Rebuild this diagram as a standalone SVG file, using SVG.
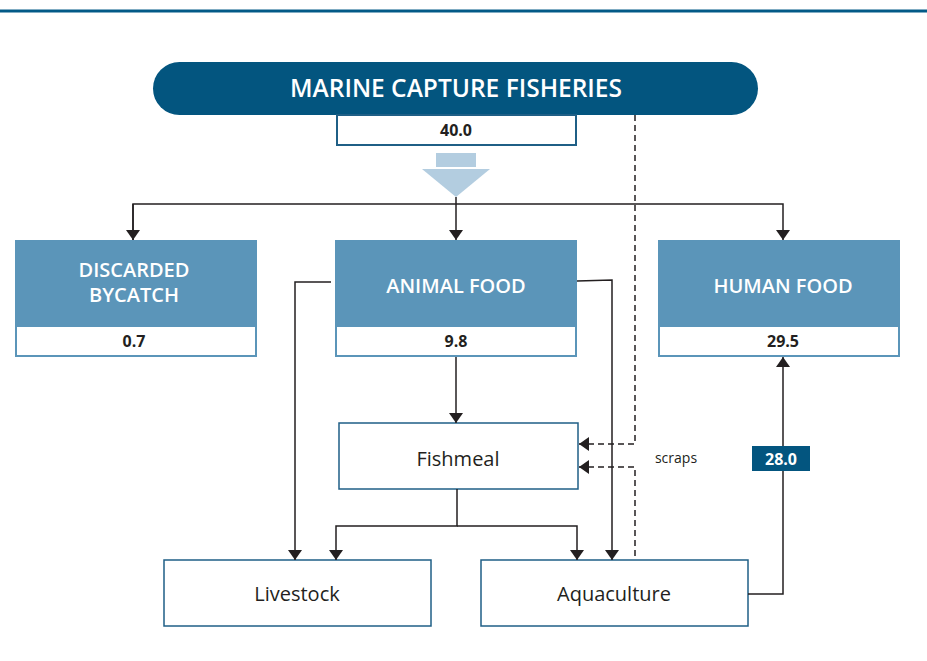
<svg xmlns="http://www.w3.org/2000/svg" width="927" height="661" viewBox="0 0 927 661">
<defs>
<style>
.t{font-family:"Open Sans","Liberation Sans",sans-serif}
.cap{font-size:20px;font-weight:600;fill:#fff;text-anchor:middle}
.num{font-size:16px;font-weight:700;fill:#231f20;text-anchor:middle}
.lbl{font-size:20px;fill:#231f20;text-anchor:middle}
.hd{fill:#5b95b9}
.vb{fill:#fff;stroke:#5b95b9;stroke-width:2}
.wb{fill:#fff;stroke:#1f5f86;stroke-width:1.5}
.ln{fill:none;stroke:#231f20;stroke-width:1.5}
.ds{fill:none;stroke:#231f20;stroke-width:1.5;stroke-dasharray:6 4}
</style>
<marker id="ah" viewBox="0 0 10 14" refX="10" refY="7" markerWidth="10" markerHeight="14" markerUnits="userSpaceOnUse" orient="auto">
<path d="M0,0L10,7L0,14z" fill="#231f20"/>
</marker>
</defs>
<rect x="0" y="9.5" width="927" height="3" fill="#035a87"/>

<g id="marine">
<rect x="153" y="62" width="605" height="53" rx="26.5" fill="#03557f"/>
<text class="t" x="456" y="97" font-size="24.5" font-weight="600" fill="#fff" text-anchor="middle">MARINE CAPTURE FISHERIES</text>
<rect x="337" y="115" width="239" height="30" fill="#fff" stroke="#1f5f86" stroke-width="2"/>
<text class="t num" x="456" y="136">40.0</text>
</g>

<g id="bigarrow" fill="#b3cde0">
<rect x="436" y="153" width="40" height="14"/>
<path d="M422,169H490L456,197z"/>
</g>

<g id="discarded">
<rect class="vb" x="16" y="241" width="240" height="115"/>
<rect class="hd" x="15" y="240" width="242" height="87"/>
<text class="t cap" x="134" y="277">DISCARDED</text>
<text class="t cap" x="134" y="302">BYCATCH</text>
<text class="t num" x="134" y="347">0.7</text>
</g>

<g id="animal">
<rect class="vb" x="336" y="241" width="240" height="115"/>
<rect class="hd" x="335" y="240" width="242" height="87"/>
<text class="t cap" x="456" y="293">ANIMAL FOOD</text>
<text class="t num" x="456" y="347">9.8</text>
</g>

<g id="human">
<rect class="vb" x="659" y="241" width="240" height="115"/>
<rect class="hd" x="658" y="240" width="242" height="87"/>
<text class="t cap" x="783" y="293">HUMAN FOOD</text>
<text class="t num" x="783" y="347">29.5</text>
</g>

<g id="fishmeal">
<rect class="wb" x="339" y="423" width="239" height="66"/>
<text class="t lbl" x="458" y="466">Fishmeal</text>
</g>

<g id="livestock">
<rect class="wb" x="164" y="560" width="267" height="66"/>
<text class="t lbl" x="297" y="601">Livestock</text>
</g>

<g id="aquaculture">
<rect class="wb" x="481" y="560" width="267" height="66"/>
<text class="t lbl" x="614" y="601">Aquaculture</text>
</g>

<g id="connectors">
<path class="ln" d="M133,240V204H783V240" marker-end="url(#ah)"/>
<path class="ln" d="M133,204V240" marker-end="url(#ah)"/>
<path class="ln" d="M456,197V240" marker-end="url(#ah)"/>
<path class="ln" d="M456,357V423" marker-end="url(#ah)"/>
<path class="ln" d="M331,282H295V560" marker-end="url(#ah)"/>
<path class="ln" d="M577,281L612,280V560" marker-end="url(#ah)"/>
<path class="ln" d="M457,489V526H336V560" marker-end="url(#ah)"/>
<path class="ln" d="M457,526H577V560" marker-end="url(#ah)"/>
<path class="ln" d="M748,594H783V357" marker-end="url(#ah)"/>
<path class="ds" d="M635,115V444H579" marker-end="url(#ah)"/>
<path class="ds" d="M635,556V467H579" marker-end="url(#ah)"/>
<text class="t" x="676" y="463" font-size="14" fill="#231f20" text-anchor="middle">scraps</text>
<rect x="752" y="446" width="58" height="25" fill="#03557f"/>
<text class="t" x="781" y="465" font-size="16" font-weight="700" fill="#fff" text-anchor="middle">28.0</text>
</g>
</svg>
